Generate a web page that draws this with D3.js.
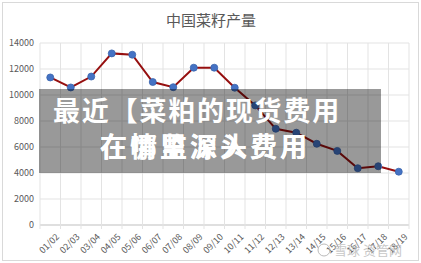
<html>
<head>
<meta charset="utf-8">
<style>
  body { margin: 0; background: #fff; }
  text { font-family: "Noto Sans CJK SC", "Noto Sans", sans-serif; }
</style>
</head>
<body>
<script src="https://d3js.org/d3.v7.min.js"></script>
<div id="chart"></div>
<script>
// chart data
var seasons = ["01/02","02/03","03/04","04/05","05/06","06/07","07/08","08/09","09/10",
               "10/11","11/12","12/13","13/14","14/15","15/16","16/17","17/18","18/19"];
var output = [11350, 10580, 11420, 13200, 13100, 11000, 10600, 12100, 12100,
              10560, 9200, 7400, 7100, 6250, 5700, 4370, 4520, 4100];
var yTicks = [0, 2000, 4000, 6000, 8000, 10000, 12000, 14000];
var chartTitle = "中国菜籽产量";
var bannerLine1 = "最近【菜粕的现货费用";
var bannerLine2a = "在哪里深入费用";
var bannerLine2b = "在情监源头费用";

var W = 421, H = 263;
var margin = {top: 43, right: 12, bottom: 38, left: 40};
var width = W - margin.left - margin.right,
    height = H - margin.top - margin.bottom;

var svg = d3.select("#chart").append("svg")
    .attr("width", W).attr("height", H);

// outer frame
svg.append("rect").attr("x", 2.5).attr("y", 2.5)
  .attr("width", W - 5).attr("height", H - 5)
  .attr("fill", "#fff").attr("stroke", "#d9d9d9");

svg.append("text").attr("x", 211).attr("y", 26)
  .attr("text-anchor", "middle").attr("font-size", 15)
  .attr("fill", "#595959").text(chartTitle);

var g = svg.append("g")
  .attr("transform", "translate(" + margin.left + "," + margin.top + ")");

var x = d3.scaleBand().domain(seasons).range([0, width]);
var y = d3.scaleLinear().domain([0, 14000]).range([height, 0]);

// horizontal grid
g.selectAll(".hgrid").data(yTicks).enter().append("line")
  .attr("x1", 0).attr("x2", width)
  .attr("y1", function(d) { return y(d); }).attr("y2", function(d) { return y(d); })
  .attr("stroke", function(d) { return d === 0 ? "#bfbfbf" : "#e3e3e3"; });

// vertical grid at band edges
var edges = seasons.map(function(s) { return x(s); }).concat([width]);
g.selectAll(".vgrid").data(edges).enter().append("line")
  .attr("x1", function(d) { return d; }).attr("x2", function(d) { return d; })
  .attr("y1", 0).attr("y2", height + 4)
  .attr("stroke", "#e3e3e3");

// y labels
g.selectAll(".ylab").data(yTicks).enter().append("text")
  .attr("x", -6).attr("y", function(d) { return y(d) + 3; })
  .attr("text-anchor", "end").attr("font-size", 9).attr("fill", "#595959")
  .text(function(d) { return d; });

// x labels
g.selectAll(".xlab").data(seasons).enter().append("text")
  .attr("transform", function(d) {
    return "translate(" + (x(d) + x.bandwidth() / 2 + 5) + "," + (height + 8) + ") rotate(-45)";
  })
  .attr("text-anchor", "end").attr("dy", "0.7em").attr("font-size", 9).attr("fill", "#595959")
  .text(function(d) { return d; });

var line = d3.line()
  .x(function(d, i) { return x(seasons[i]) + x.bandwidth() / 2; })
  .y(function(d) { return y(d); });

g.append("path").datum(output)
  .attr("d", line).attr("fill", "none")
  .attr("stroke", "#960f0f").attr("stroke-width", 2);

g.selectAll(".dot").data(output).enter().append("circle")
  .attr("cx", function(d, i) { return x(seasons[i]) + x.bandwidth() / 2; })
  .attr("cy", function(d) { return y(d); })
  .attr("r", 3.5).attr("fill", "#4472c4").attr("stroke", "#3a64ad").attr("stroke-width", 0.8);

// gray banner overlay
svg.append("rect").attr("x", 39).attr("y", 89)
  .attr("width", 342).attr("height", 84)
  .attr("fill", "#000").attr("opacity", 0.4);

svg.append("text").attr("x", 53).attr("y", 121)
  .attr("font-size", 27).attr("font-weight", "bold").attr("fill", "#fff")
  .attr("letter-spacing", 1.8).text(bannerLine1);
[bannerLine2a, bannerLine2b].forEach(function(t) {
  svg.append("text").attr("x", 100).attr("y", 157)
    .attr("font-size", 27).attr("font-weight", "bold").attr("fill", "#fff")
    .attr("letter-spacing", 3).text(t);
});

// watermark
svg.append("circle").attr("cx", 324).attr("cy", 250).attr("r", 6)
  .attr("fill", "none").attr("stroke", "#bbb").attr("stroke-width", 1);
svg.append("text").attr("x", 334).attr("y", 255)
  .attr("font-size", 13).attr("fill", "#bbb").attr("opacity", 0.8)
  .text("雪球  资管网");
</script>
</body>
</html>
